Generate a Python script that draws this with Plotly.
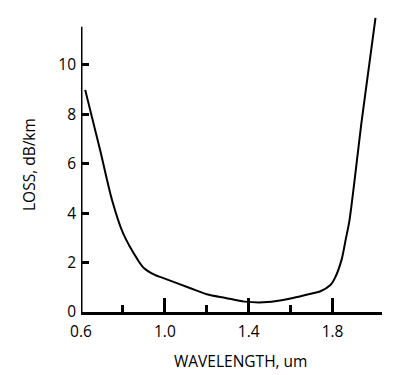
import plotly.graph_objects as go

wavelength = [0.62, 0.69, 0.748, 0.80, 0.871, 0.90, 0.952, 0.99, 1.119, 1.20, 1.29, 1.38,
              1.49, 1.60, 1.69, 1.74, 1.79, 1.81, 1.843, 1.862, 1.881, 1.94, 2.005]
loss = [8.99, 6.60, 4.53, 3.20, 2.11, 1.78, 1.50, 1.38, 0.97, 0.72, 0.57, 0.42,
        0.40, 0.55, 0.73, 0.83, 1.09, 1.35, 2.11, 2.90, 3.72, 7.80, 11.9]

x_major = [0.6, 1.0, 1.4, 1.8]
x_major_text = ["0.6", "1.0", "1.4", "1.8"]
x_minor = [0.8, 1.2, 1.6]
y_ticks = [0, 2, 4, 6, 8, 10]
y_axis_top = 11.54

FONT = "Open Sans"
FS = 15.5

fig = go.Figure()
fig.add_trace(go.Scatter(x=wavelength, y=loss, mode="lines",
                         line=dict(color="black", width=2, shape="spline", smoothing=0.8),
                         hoverinfo="skip", showlegend=False, cliponaxis=False))

fig.update_layout(
    width=407, height=375,
    margin=dict(l=81, r=25, t=15, b=63),
    paper_bgcolor="white", plot_bgcolor="white",
    font=dict(family=FONT, size=FS, color="black"),
    showlegend=False,
    xaxis=dict(range=[0.6, 2.036], showgrid=False, zeroline=False,
               showline=True, linecolor="black", linewidth=3,
               tickmode="array", tickvals=x_major, ticktext=x_major_text,
               ticks="inside", ticklen=14, tickwidth=3, tickcolor="black",
               ticklabelstandoff=3,
               minor=dict(tickmode="array", tickvals=x_minor, ticks="inside",
                          ticklen=7, tickwidth=3, tickcolor="black", showgrid=False),
               tickfont=dict(family=FONT, size=FS, color="black")),
    yaxis=dict(range=[0, 12.02], showgrid=False, zeroline=False, showline=False,
               tickmode="array", tickvals=y_ticks,
               ticks="inside", ticklen=8, tickwidth=3, tickcolor="black",
               ticklabelstandoff=4,
               tickfont=dict(family=FONT, size=FS, color="black")),
    shapes=[dict(type="line", xref="x", yref="y", x0=0.6, x1=0.6, y0=0, y1=y_axis_top,
                 line=dict(color="black", width=3))],
    annotations=[
        dict(text="WAVELENGTH, um", xref="paper", yref="paper", x=(240 - 81) / 301,
             y=-(361 - 312) / 297, xanchor="center", yanchor="middle", showarrow=False,
             font=dict(family=FONT, size=FS, color="black")),
        dict(text="LOSS, dB/km", xref="paper", yref="paper", x=-(81 - 29) / 301,
             y=(312 - 165) / 297, xanchor="center", yanchor="middle", showarrow=False,
             textangle=-90, font=dict(family=FONT, size=FS, color="black")),
    ],
)

fig.write_html("out.html", config={"displayModeBar": False},
               post_script="document.body.style.margin='0';")
